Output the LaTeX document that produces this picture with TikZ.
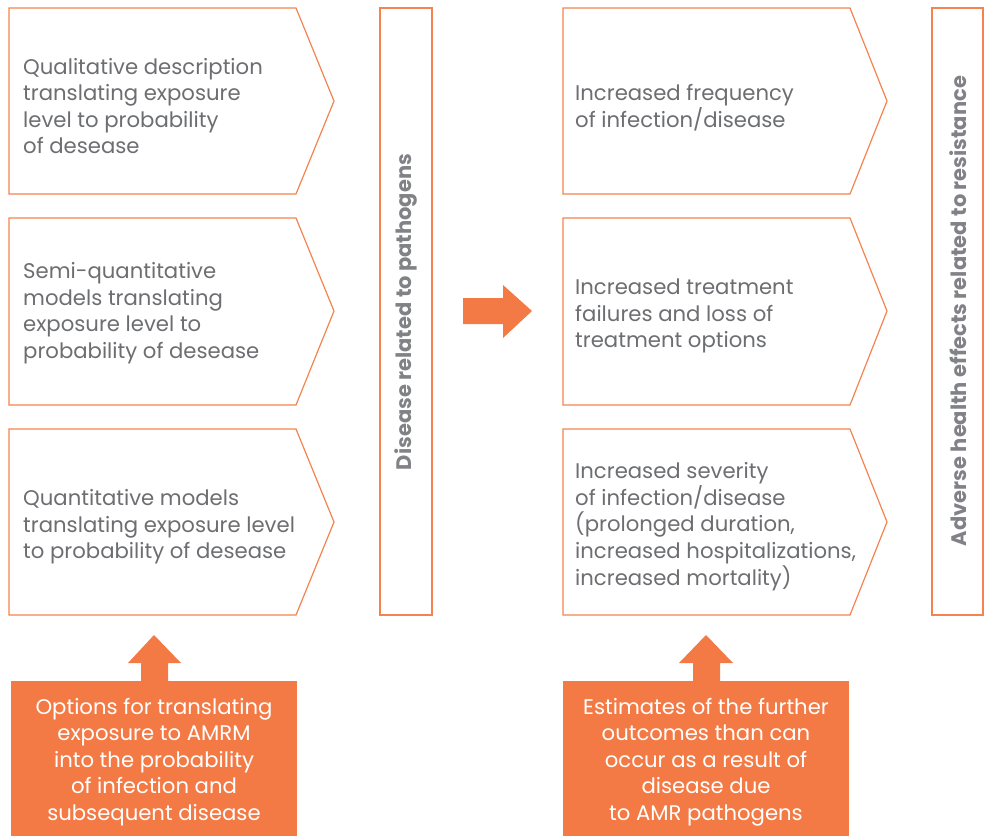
\documentclass[tikz,border=0pt]{standalone}
\usepackage{fontspec}
\setmainfont{Poppins}
\definecolor{orng}{HTML}{F47A45}
\definecolor{edge}{HTML}{F4844F}
\definecolor{txtg}{HTML}{6D6E71}
\definecolor{vtxt}{HTML}{808285}
\tikzset{
  shapebox/.style={draw=edge, line width=1.2pt, fill=white},
  lbl/.style={inner sep=0pt, anchor=west, align=left, text=txtg, font=\fontsize{21.2}{26.6}\selectfont},
  vlbl/.style={inner sep=0pt, rotate=90, text=vtxt, font=\fontsize{21}{24}\selectfont\bfseries},
  wlbl/.style={inner sep=0pt, align=center, text=white, font=\fontsize{21.2}{26.6}\selectfont},
  bigarrow/.style={fill=orng, draw=none}
}
\begin{document}
\begin{tikzpicture}[x=1pt,y=-1pt]
\useasboundingbox (0,0) rectangle (989,836);
% left pentagons
\draw[shapebox] (9,8) -- (296,8) -- (334,101) -- (296,194) -- (9,194) -- cycle;
\draw[shapebox] (9,218) -- (296,218) -- (334,311) -- (296,405) -- (9,405) -- cycle;
\draw[shapebox] (9,429) -- (296,429) -- (334,522) -- (296,615) -- (9,615) -- cycle;
% right pentagons
\draw[shapebox] (563,8) -- (850,8) -- (887,101) -- (850,194) -- (563,194) -- cycle;
\draw[shapebox] (563,218) -- (850,218) -- (887,311) -- (850,405) -- (563,405) -- cycle;
\draw[shapebox] (563,429) -- (850,429) -- (887,522) -- (850,615) -- (563,615) -- cycle;
% vertical bars
\draw[shapebox] (380,8) rectangle (432,615);
\draw[shapebox] (932,8) rectangle (983,615);
\node[vlbl] (v1) at (406,312) {Disease related to pathogens};
\node[vlbl] (v2) at (958,311) {Adverse health effects related to resistance};
% texts
\node[lbl] (l1) at (23,106) {Qualitative description\\translating exposure\\level to probability\\of desease};
\node[lbl] (l2) at (23,313) {Semi-quantitative\\models translating\\exposure level to\\probability of desease};
\node[lbl] (l3) at (23,527) {Quantitative models\\translating exposure level\\to probability of desease};
\node[lbl] (r1) at (575,107.5) {Increased frequency\\of infection/disease};
\node[lbl] (r2) at (575,316) {Increased treatment\\failures and loss of\\treatment options};
\node[lbl] (r3) at (575,526.5) {Increased severity\\of infection/disease\\(prolonged duration,\\increased hospitalizations,\\increased mortality)};
% middle arrow
\fill[bigarrow] (463,298) -- (503,298) -- (503,285) -- (532,311) -- (503,338) -- (503,324) -- (463,324) -- cycle;
% bottom boxes
\fill[orng] (11,681) rectangle (297,836);
\fill[orng] (563,681) rectangle (849,836);
\fill[bigarrow] (141,681) -- (141,663) -- (128,663) -- (154,635) -- (181,663) -- (168,663) -- (168,681) -- cycle;
\fill[bigarrow] (693,681) -- (693,663) -- (679,663) -- (706,635) -- (733,663) -- (720,663) -- (720,681) -- cycle;
\node[wlbl] (b1) at (154,762) {Options for translating\\exposure to AMRM\\into the probability\\of infection and\\subsequent disease};
\node[wlbl] (b2) at (706,762) {Estimates of the further\\outcomes than can\\occur as a result of\\disease due\\to AMR pathogens};
\end{tikzpicture}
\end{document}
